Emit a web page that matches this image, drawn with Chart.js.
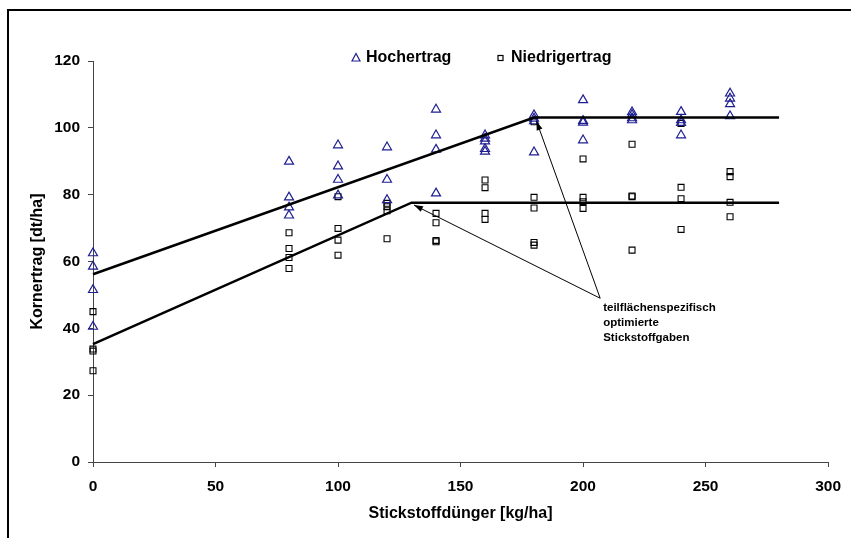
<!DOCTYPE html>
<html>
<head>
<meta charset="utf-8">
<script src="https://cdn.jsdelivr.net/npm/chart.js@4.4.0/dist/chart.umd.min.js"></script>
<style>
  html, body { margin: 0; padding: 0; background: #fff; }
  #wrap { width: 851px; height: 538px; }
</style>
</head>
<body>
<div id="wrap"><canvas id="yieldChart" width="851" height="538"></canvas></div>
<script>
// Kornertrag je Stickstoffstufe
const hochX = [0, 0, 0, 0, 80, 80, 80, 80, 100, 100, 100, 100, 120, 120, 120,
    140, 140, 140, 140, 160, 160, 160, 160, 160, 180, 180, 180, 180,
    200, 200, 200, 200, 220, 220, 220, 220, 240, 240, 240, 240, 260, 260, 260, 260];
const hochY = [62.5, 58.5, 51.5, 40.5, 89.9, 79.2, 76.2, 73.8, 94.8, 88.5, 84.5, 79.8, 94.2, 84.5, 78.4,
    105.5, 97.8, 93.5, 80.4, 97.8, 96.8, 96.0, 93.7, 92.9, 103.8, 102.8, 102.0, 92.7,
    108.3, 102.1, 101.6, 96.3, 104.7, 103.9, 102.9, 102.3, 104.8, 102.3, 101.5, 97.8, 110.3, 108.8, 107.1, 103.5];

const niedrigX = [0, 0, 0, 0, 80, 80, 80, 80, 100, 100, 100, 100, 120, 120, 120, 120,
    140, 140, 140, 140, 160, 160, 160, 160, 180, 180, 180, 180, 180,
    200, 200, 200, 200, 220, 220, 220, 220, 240, 240, 240, 240, 260, 260, 260, 260];
const niedrigY = [45.0, 33.8, 33.2, 27.3, 68.6, 63.9, 61.2, 57.9, 79.4, 69.9, 66.4, 61.9, 77.4, 76.4, 75.2, 66.8,
    74.4, 71.6, 66.3, 65.9, 84.4, 82.1, 74.4, 72.6, 101.8, 79.2, 76.0, 65.7, 64.9,
    90.7, 79.2, 77.9, 75.9, 95.1, 79.6, 79.4, 63.4, 101.3, 82.2, 78.8, 69.6, 86.9, 85.4, 77.7, 73.4];

// Linear-Plateau-Modelle
const hochModelX = [0, 180, 280];
const hochModelY = [56.2, 103.1, 103.1];
const niedrigModelX = [0, 130, 280];
const niedrigModelY = [35.3, 77.6, 77.6];

const xTicks = [0, 50, 100, 150, 200, 250, 300];
const yTicks = [0, 20, 40, 60, 80, 100, 120];

const legendLabels = ['Hochertrag', 'Niedrigertrag'];
const noteLines = ['teilflächenspezifisch', 'optimierte', 'Stickstoffgaben'];
// Pfeile: Startpunkt am Text, Spitzen an den Knickpunkten (Datenkoordinaten)
const arrowFrom = { x: 207, y: 49 };
const arrowTips = [{ x: 131, y: 76.9 }, { x: 181, y: 102 }];

const toPoints = (xs, ys) => xs.map((x, i) => ({ x: x, y: ys[i] }));
const FONT = '"Liberation Sans", Arial, sans-serif';
const BLUE = '#1e1e90';

const extras = {
    id: 'extras',
    beforeDraw(chart) {
        const ctx = chart.ctx;
        ctx.save();
        ctx.strokeStyle = '#000';
        ctx.lineWidth = 2;
        ctx.strokeRect(8, 10, 900, 600);
        ctx.restore();
    },
    afterDatasetsDraw(chart) {
        const ctx = chart.ctx;
        const xs = chart.scales.x, ys = chart.scales.y;
        const ox = xs.getPixelForValue(arrowFrom.x), oy = ys.getPixelForValue(arrowFrom.y);
        ctx.save();
        ctx.strokeStyle = '#000';
        ctx.fillStyle = '#000';
        ctx.lineWidth = 1;
        arrowTips.forEach(t => {
            const tx = xs.getPixelForValue(t.x), ty = ys.getPixelForValue(t.y);
            ctx.beginPath();
            ctx.moveTo(ox, oy);
            ctx.lineTo(tx, ty);
            ctx.stroke();
            const a = Math.atan2(ty - oy, tx - ox);
            ctx.beginPath();
            ctx.moveTo(tx, ty);
            ctx.lineTo(tx - 9 * Math.cos(a) + 3 * Math.sin(a), ty - 9 * Math.sin(a) - 3 * Math.cos(a));
            ctx.lineTo(tx - 9 * Math.cos(a) - 3 * Math.sin(a), ty - 9 * Math.sin(a) + 3 * Math.cos(a));
            ctx.closePath();
            ctx.fill();
        });
        ctx.font = 'bold 11.5px ' + FONT;
        ctx.textAlign = 'left';
        ctx.textBaseline = 'middle';
        noteLines.forEach((s, i) => ctx.fillText(s, ox + 3, oy + 10 + i * 14.7));

        // Legende
        ctx.font = 'bold 16px ' + FONT;
        const ly = 58;
        ctx.strokeStyle = BLUE;
        ctx.lineWidth = 1.2;
        ctx.beginPath();
        ctx.moveTo(356, ly - 4.5);
        ctx.lineTo(360, ly + 3);
        ctx.lineTo(352, ly + 3);
        ctx.closePath();
        ctx.stroke();
        ctx.fillStyle = '#000';
        ctx.fillText(legendLabels[0], 366, ly);
        ctx.strokeStyle = '#000';
        ctx.strokeRect(498, ly - 2.5, 5, 5);
        ctx.fillText(legendLabels[1], 511, ly);
        ctx.restore();
    }
};

const ctx = document.getElementById('yieldChart').getContext('2d');
const yieldChart = new Chart(ctx, {
    type: 'scatter',
    data: {
        datasets: [{
            label: 'Modell Hochertrag',
            data: toPoints(hochModelX, hochModelY),
            showLine: true,
            borderColor: '#000',
            borderWidth: 2.5,
            pointRadius: 0,
            tension: 0,
            clip: false
        }, {
            label: 'Modell Niedrigertrag',
            data: toPoints(niedrigModelX, niedrigModelY),
            showLine: true,
            borderColor: '#000',
            borderWidth: 2.5,
            pointRadius: 0,
            tension: 0,
            clip: false
        }, {
            label: legendLabels[0],
            data: toPoints(hochX, hochY),
            pointStyle: 'triangle',
            pointRadius: 5.2,
            borderColor: BLUE,
            backgroundColor: 'rgba(0,0,0,0)',
            borderWidth: 1.2,
            clip: false
        }, {
            label: legendLabels[1],
            data: toPoints(niedrigX, niedrigY),
            pointStyle: 'rect',
            pointRadius: 4.2,
            borderColor: '#000',
            backgroundColor: 'rgba(0,0,0,0)',
            borderWidth: 1.1,
            clip: false
        }]
    },
    options: {
        responsive: false,
        animation: false,
        layout: { padding: { left: 0, top: 61, right: 22, bottom: 0 } },
        plugins: {
            legend: { display: false },
            tooltip: { enabled: false }
        },
        scales: {
            x: {
                type: 'linear',
                min: 0,
                max: 300,
                afterBuildTicks: s => { s.ticks = xTicks.map(v => ({ value: v })); },
                afterFit: s => { s.height = 76; },
                grid: { display: true, drawOnChartArea: false, drawTicks: true, tickLength: 5, color: '#444' },
                border: { display: true, color: '#444', width: 1 },
                ticks: { color: '#000', padding: 10, font: { family: FONT, size: 15.5, weight: 'bold' } },
                title: {
                    display: true,
                    text: 'Stickstoffdünger [kg/ha]',
                    color: '#000',
                    padding: { top: 0, bottom: 14.4 },
                    font: { family: FONT, size: 16, weight: 'bold', lineHeight: 1.2 }
                }
            },
            y: {
                type: 'linear',
                min: 0,
                max: 120,
                afterBuildTicks: s => { s.ticks = yTicks.map(v => ({ value: v })); },
                afterFit: s => { s.width = 93; },
                grid: { display: true, drawOnChartArea: false, drawTicks: true, tickLength: 5, color: '#444' },
                border: { display: true, color: '#444', width: 1 },
                ticks: { color: '#000', padding: 8, font: { family: FONT, size: 15.5, weight: 'bold' } },
                title: {
                    display: true,
                    text: 'Kornertrag [dt/ha]',
                    color: '#000',
                    padding: { top: 28.4, bottom: 0 },
                    font: { family: FONT, size: 16, weight: 'bold', lineHeight: 1.2 }
                }
            }
        }
    },
    plugins: [extras]
});
</script>
</body>
</html>
